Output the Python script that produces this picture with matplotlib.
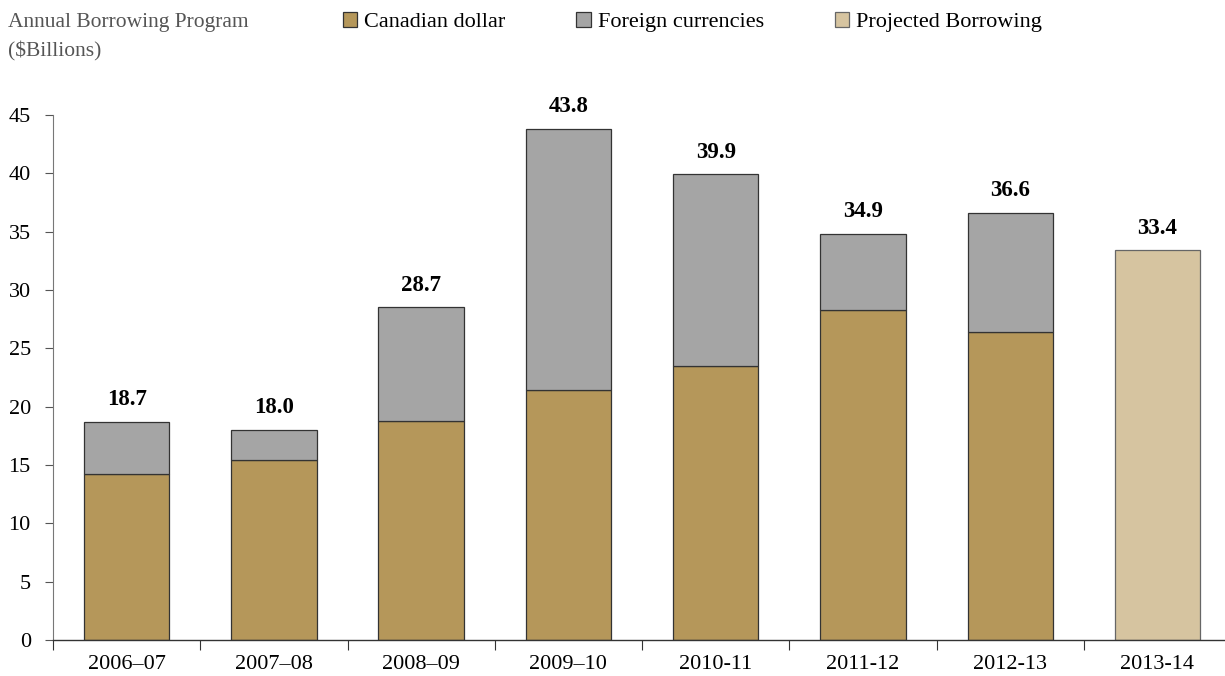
import matplotlib
matplotlib.use("Agg")
import matplotlib.pyplot as plt
import numpy as np

categories = ["2006–07", "2007–08", "2008–09", "2009–10", "2010-11", "2011-12", "2012-13", "2013-14"]
canadian = [14.2, 15.4, 18.8, 21.4, 23.5, 28.3, 26.4, 0]
foreign = [4.5, 2.6, 9.7, 22.4, 16.4, 6.5, 10.2, 0]
projected = [0, 0, 0, 0, 0, 0, 0, 33.4]
totals = [18.7, 18.0, 28.7, 43.8, 39.9, 34.9, 36.6, 33.4]
yticks = [0, 5, 10, 15, 20, 25, 30, 35, 40, 45]

plt.rcParams['font.family'] = ['Liberation Serif', 'DejaVu Serif']

c_can = "#B5975A"
c_for = "#A5A5A5"
c_proj = "#D6C4A0"
edge = "#333333"

fig = plt.figure(figsize=(12.25, 6.76), dpi=100)
ax = fig.add_axes([53/1225, 1 - 640/676, 1 - 53/1225 + 0.005, (640 - 115)/676])

x = np.arange(len(categories))
w = 0.58
hist = slice(0, 7)
b1 = ax.bar(x[hist], canadian[hist], w, color=c_can, edgecolor=edge, linewidth=0.9, label="Canadian dollar")
b2 = ax.bar(x[hist], foreign[hist], w, bottom=canadian[hist], color=c_for, edgecolor=edge, linewidth=0.9, label="Foreign currencies")
b3 = ax.bar(x[7:], projected[7:], w, color=c_proj, edgecolor="#666666", linewidth=0.9, label="Projected Borrowing")

for xi, t, c, f, p in zip(x, totals, canadian, foreign, projected):
    top = max(c + f, p)
    ax.text(xi, top + 1.9, f"{t:.1f}", ha="center", va="center", fontsize=16.5, fontweight="bold")

ax.set_xlim(-0.5, 7.5)
ax.set_ylim(0, 45)
ax.set_yticks(yticks)
ax.tick_params(axis="y", labelsize=16, length=6, width=0.8, color="#555555", pad=10)
ax.set_xticks(x)
ax.set_xticklabels(categories, fontsize=16)
ax.tick_params(axis="x", which="major", length=0, pad=11)
ax.set_xticks(np.arange(-0.5, 7.6, 1.0)[:-1], minor=True)
ax.tick_params(axis="x", which="minor", length=7, width=0.8, color="#333333", direction="out")
for s in ["top", "right"]:
    ax.spines[s].set_visible(False)
ax.spines["left"].set_color("#777777")
ax.spines["left"].set_linewidth(0.8)
ax.spines["bottom"].set_color("#333333")
ax.spines["bottom"].set_linewidth(1.0)

fig.text(8/1225, 1 - 22/676, "Annual Borrowing Program", fontsize=15.5, color="#555555", va="center", ha="left")
fig.text(8/1225, 1 - 51/676, "($Billions)", fontsize=15.5, color="#555555", va="center", ha="left")

leg = fig.legend(handles=[b1, b2, b3], loc="center left", bbox_to_anchor=(343/1225, 1 - 22/676),
                 ncol=3, frameon=False, fontsize=16, handlelength=0.65, handleheight=0.7,
                 handletextpad=0.3, columnspacing=3.2, borderaxespad=0, borderpad=0)

fig.savefig("out.png", dpi=100)
